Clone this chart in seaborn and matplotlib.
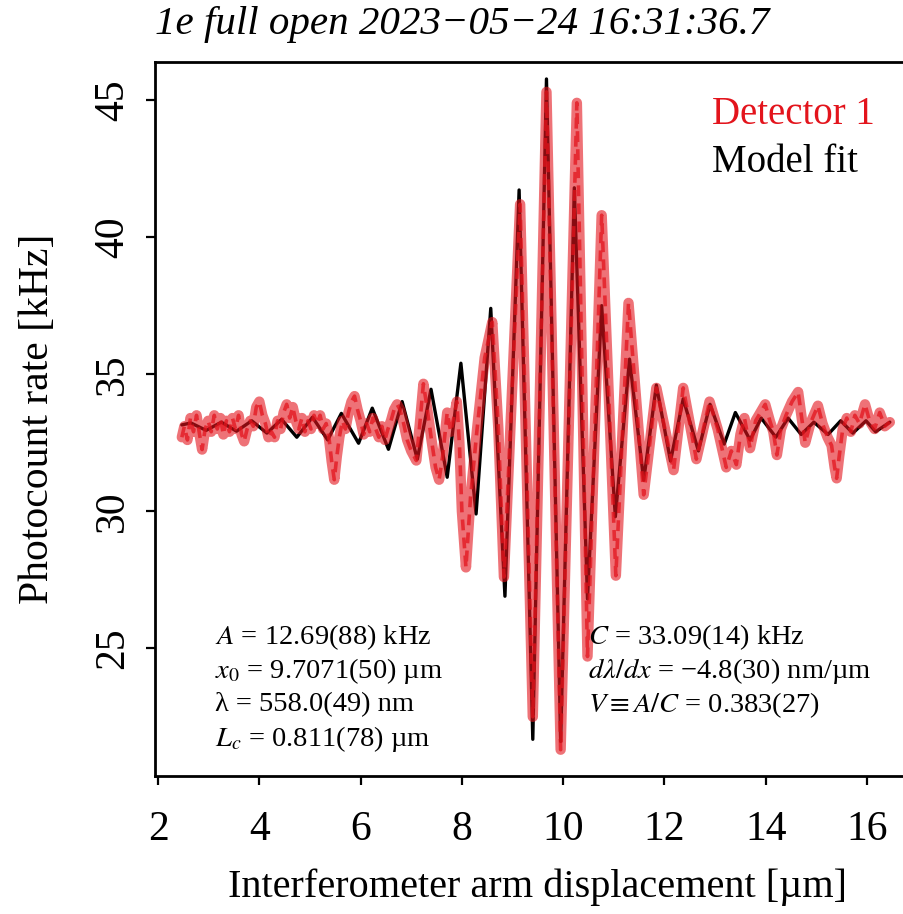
import matplotlib
matplotlib.use("Agg")
import matplotlib.pyplot as plt
import seaborn as sns
import pandas as pd

# ---- data ----
fit_x = [2.47, 2.65, 2.95, 3.25, 3.55, 3.85, 4.15, 4.44, 4.74, 5.05, 5.35, 5.62, 5.96,
         6.23, 6.55, 6.82, 7.12, 7.39, 7.71, 7.98, 8.28, 8.57, 8.85, 9.13, 9.40, 9.67,
         9.95, 10.22, 10.48, 10.76, 11.03, 11.31, 11.59, 11.84, 12.12, 12.37, 12.67,
         12.90, 13.18, 13.40, 13.69, 13.91, 14.20, 14.44, 14.70, 14.95, 15.23, 15.48,
         15.72, 15.98, 16.17, 16.45]
fit_y = [33.15, 33.22, 32.95, 33.25, 32.92, 33.30, 32.85, 33.35, 32.70, 33.43, 32.60,
         33.57, 32.48, 33.76, 32.26, 34.00, 31.90, 34.45, 31.24, 35.40, 29.90, 37.40,
         26.90, 41.72, 21.68, 45.77, 21.60, 41.80, 26.80, 37.50, 29.80, 35.55, 31.13,
         34.60, 31.83, 34.10, 32.20, 33.90, 32.45, 33.60, 32.60, 33.40, 32.70, 33.40,
         32.80, 33.25, 32.80, 33.30, 32.85, 33.30, 32.90, 33.25]

det_x = [2.47, 2.52, 2.58, 2.64, 2.70, 2.76, 2.82, 2.87, 2.93, 2.99, 3.05, 3.11, 3.17,
         3.23, 3.29, 3.35, 3.41, 3.47, 3.53, 3.59, 3.65, 3.70, 3.76, 3.82, 3.88, 3.94,
         4.00, 4.06, 4.12, 4.18, 4.24, 4.30, 4.36, 4.42, 4.48, 4.54, 4.60, 4.66, 4.72,
         4.78, 4.84, 4.90, 4.96, 5.02, 5.08, 5.14, 5.20, 5.26, 5.32, 5.38, 5.43, 5.48,
         5.53, 5.58, 5.64, 5.70, 5.76, 5.82, 5.88, 5.94, 6.00, 6.06, 6.12, 6.18, 6.24,
         6.30, 6.36, 6.42, 6.48, 6.54, 6.60, 6.66, 6.72, 6.78, 6.85, 6.92, 7.00, 7.10,
         7.17, 7.24, 7.31, 7.40, 7.48, 7.55, 7.62, 7.71, 7.78, 7.85, 7.90, 7.95, 8.00,
         8.08, 8.17, 8.30, 8.45, 8.60, 8.72, 8.83, 9.15, 9.40, 9.67, 9.95, 10.27, 10.48,
         10.76, 11.04, 11.29, 11.59, 11.84, 12.18, 12.37, 12.63, 12.89, 13.05, 13.22,
         13.32, 13.42, 13.50, 13.58, 13.69, 13.80, 13.99, 14.08, 14.15, 14.22, 14.30,
         14.40, 14.52, 14.64, 14.71, 14.78, 14.88, 15.03, 15.12, 15.22, 15.30, 15.36,
         15.40, 15.45, 15.52, 15.60, 15.68, 15.76, 15.85, 15.96, 16.05, 16.15, 16.25,
         16.35, 16.45]
det_y = [32.70, 33.10, 32.60, 33.40, 32.90, 33.50, 32.80, 32.25, 33.00, 33.30, 32.90,
         33.50, 33.00, 33.40, 32.80, 33.30, 32.90, 33.40, 33.00, 33.50, 32.80, 32.55,
         33.00, 33.30, 33.10, 33.80, 34.00, 33.50, 33.20, 32.70, 32.90, 32.70, 33.30,
         33.00, 33.60, 33.90, 33.40, 33.80, 33.30, 33.00, 33.40, 32.90, 33.30, 33.00,
         33.50, 33.20, 33.50, 33.00, 33.20, 32.60, 31.80, 31.15, 32.00, 32.70, 33.30,
         33.00, 33.60, 34.00, 34.20, 33.70, 33.30, 32.80, 33.20, 32.90, 33.40, 33.00,
         32.70, 33.10, 32.60, 33.00, 33.30, 33.70, 33.90, 33.70, 33.20, 32.60, 32.20,
         31.85, 33.20, 34.65, 33.80, 32.60, 31.60, 31.15, 32.00, 33.60, 32.90, 33.50,
         34.00, 32.50, 30.00, 27.95, 30.50, 33.00, 35.60, 36.90, 33.00, 27.60, 41.20,
         22.50, 45.30, 21.30, 44.90, 24.70, 40.80, 27.65, 37.60, 30.60, 34.50, 31.50,
         34.50, 31.90, 34.00, 33.00, 31.60, 32.20, 31.70, 32.80, 33.40, 32.30, 33.30,
         33.90, 33.30, 32.90, 32.05, 33.00, 33.50, 34.00, 34.35, 33.40, 32.50, 33.20,
         33.85, 33.20, 32.70, 32.40, 31.60, 31.20, 32.00, 33.00, 33.40, 32.90, 33.50,
         33.20, 33.90, 33.30, 33.00, 33.60, 33.10, 33.25]

x_ticks = [2, 4, 6, 8, 10, 12, 14, 16]
y_ticks = [25, 30, 35, 40, 45]

MU = "\u00b5"
title = "1e full open 2023\u221205\u221224 16:31:36.7"
legend_labels = ["Detector 1", "Model fit"]
params_left = [r"$A$" + " = 12.69(88) kHz",
               r"$x_0$" + " = 9.7071(50) " + MU + "m",
               "\u03bb = 558.0(49) nm",
               r"$L_c$" + " = 0.811(78) " + MU + "m"]
params_right = [r"$C$" + " = 33.09(14) kHz",
                r"$d\lambda/dx$" + " = \u22124.8(30) nm/" + MU + "m",
                r"$V \equiv A/C$" + " = 0.383(27)"]

# ---- styling ----
sns.set_style("ticks")
plt.rcParams["font.family"] = ["Liberation Serif", "DejaVu Serif"]
plt.rcParams["mathtext.fontset"] = "stix"
plt.rcParams["text.color"] = "black"
plt.rcParams["axes.labelcolor"] = "black"
plt.rcParams["xtick.color"] = "black"
plt.rcParams["ytick.color"] = "black"
plt.rcParams["axes.edgecolor"] = "black"

RED = "#e3141c"

fig = plt.figure(figsize=(9.04, 9.14), dpi=100)
ax = fig.add_axes([155 / 904, 1 - 776 / 914, 1 - 155 / 904, (776 - 62) / 914])

fit_df = pd.DataFrame({"x": fit_x, "y": fit_y})
det_df = pd.DataFrame({"x": det_x, "y": det_y})

sns.lineplot(data=fit_df, x="x", y="y", ax=ax, color="black", lw=2.4,
             sort=False, estimator=None, zorder=2, solid_joinstyle="round")
sns.lineplot(data=det_df, x="x", y="y", ax=ax, color=RED, lw=7.5, alpha=0.6,
             sort=False, estimator=None, zorder=3, solid_joinstyle="round")
sns.lineplot(data=det_df, x="x", y="y", ax=ax, color=RED, lw=2.6, alpha=0.75,
             sort=False, estimator=None, zorder=4, linestyle=(0, (3, 2)))

ax.set_xlim(1.94, 16.73)
ax.set_ylim(20.34, 46.39)
ax.set_xticks(x_ticks)
ax.set_yticks(y_ticks)
ax.set_xticklabels([str(t) for t in x_ticks])
ax.set_yticklabels([str(t) for t in y_ticks], rotation=90, va="center")
ax.tick_params(axis="both", direction="out", length=6.5, width=1.6, labelsize=30,
               colors="black")
ax.tick_params(axis="x", pad=18)
ax.tick_params(axis="y", pad=10)
for s in ["left", "bottom", "top"]:
    ax.spines[s].set_linewidth(2.0)
    ax.spines[s].set_color("black")
ax.spines["right"].set_visible(False)

ax.set_xlabel("Interferometer arm displacement [" + MU + "m]", fontsize=29, labelpad=16)
ax.xaxis.set_label_coords(0.5 + 8 / 749, -0.13)
ax.set_ylabel("Photocount rate [kHz]", fontsize=30, labelpad=26)
ax.set_title(title, fontsize=29.5, style="italic", loc="left", pad=20, x=0.0)

fig.text(712 / 904, 1 - 115 / 914, legend_labels[0], color=RED, fontsize=28, va="center")
fig.text(712 / 904, 1 - 162 / 914, legend_labels[1], color="black", fontsize=28, va="center")

for i, s in enumerate(params_left):
    fig.text(215 / 904, 1 - (637 + 34 * i) / 914, s, fontsize=20.5, va="center")
for i, s in enumerate(params_right):
    fig.text(588 / 904, 1 - (637 + 34 * i) / 914, s, fontsize=20.5, va="center")

fig.savefig("out.png", dpi=100)
